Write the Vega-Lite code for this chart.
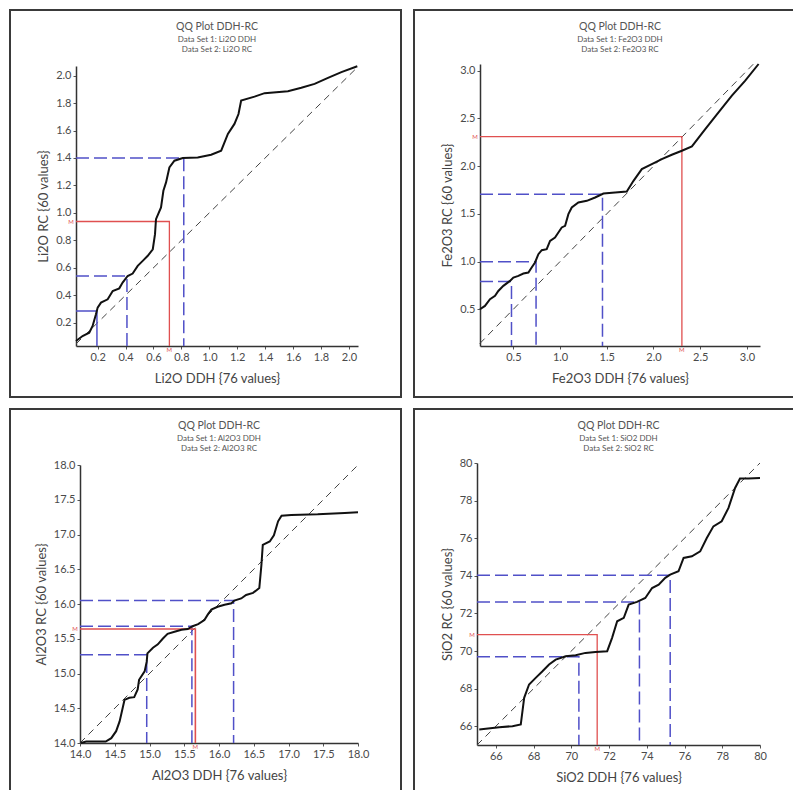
{
  "$schema": "https://vega.github.io/schema/vega-lite/v6.json",
  "padding": {"left": 9, "top": 9, "right": 0, "bottom": 0},
  "autosize": {"type": "pad"},
  "background": "white",
  "config": {
    "view": {"stroke": "#3a3a3a", "strokeWidth": 2},
    "font": "Lato",
    "axis": {"grid": false, "labelFlush": false, "labelFont": "Lato", "labelFontSize": 11, "labelColor": "#4a4a4a", "titleFont": "Lato", "titleFontSize": 13, "titleFontWeight": "normal", "titleColor": "#444", "domainColor": "#333", "domainWidth": 1.5, "tickColor": "#555", "tickSize": 3, "labelPadding": 2},
    "axisX": {"titlePadding": 10},
    "axisY": {"titlePadding": 5},
    "title": {"font": "Lato", "fontSize": 10.5, "fontWeight": "normal", "color": "#555", "subtitleFont": "Lato", "subtitleFontSize": 8, "subtitleColor": "#555", "subtitlePadding": 3, "subtitleLineHeight": 10.5, "anchor": "middle", "frame": "group", "offset": -44, "baseline": "top"}
  },
  "datasets": {
    "c1": [{"x":0.045,"y":0.066},{"x":0.092,"y":0.103},{"x":0.14,"y":0.127},{"x":0.164,"y":0.176},{"x":0.188,"y":0.261},{"x":0.2,"y":0.31},{"x":0.224,"y":0.346},{"x":0.272,"y":0.37},{"x":0.308,"y":0.431},{"x":0.355,"y":0.45},{"x":0.379,"y":0.492},{"x":0.415,"y":0.54},{"x":0.451,"y":0.558},{"x":0.487,"y":0.614},{"x":0.523,"y":0.65},{"x":0.559,"y":0.687},{"x":0.595,"y":0.735},{"x":0.611,"y":0.845},{"x":0.618,"y":0.954},{"x":0.654,"y":1.04},{"x":0.671,"y":1.161},{"x":0.69,"y":1.222},{"x":0.714,"y":1.331},{"x":0.75,"y":1.38},{"x":0.81,"y":1.4},{"x":0.917,"y":1.404},{"x":1.013,"y":1.424},{"x":1.085,"y":1.453},{"x":1.133,"y":1.575},{"x":1.18,"y":1.648},{"x":1.209,"y":1.72},{"x":1.228,"y":1.818},{"x":1.324,"y":1.847},{"x":1.396,"y":1.872},{"x":1.563,"y":1.886},{"x":1.659,"y":1.911},{"x":1.754,"y":1.94},{"x":1.85,"y":1.983},{"x":1.946,"y":2.025},{"x":2.06,"y":2.068}],
    "d1": [{"x":0.045,"y":0.045},{"x":2.065,"y":2.065}],
    "r1": [
      {"g":"A","o":1,"s":"solid","x":0.045,"y":0.285},{"g":"A","o":2,"s":"solid","x":0.195,"y":0.285},{"g":"A","o":3,"s":"solid","x":0.195,"y":0.03},
      {"g":"B","o":1,"s":"dash","x":0.045,"y":0.54},{"g":"B","o":2,"s":"dash","x":0.41,"y":0.54},{"g":"B","o":3,"s":"dash","x":0.41,"y":0.03},
      {"g":"C","o":1,"s":"dash","x":0.045,"y":1.4},{"g":"C","o":2,"s":"dash","x":0.817,"y":1.4},{"g":"C","o":3,"s":"dash","x":0.817,"y":0.03}
    ],
    "md1": [{"o":1,"x":0.045,"y":0.937},{"o":2,"x":0.714,"y":0.937},{"o":3,"x":0.714,"y":0.03}],
    "m1": [{"p":"l","x":0.045,"y":0.937},{"p":"b","x":0.714,"y":0.03}],

    "c2": [{"x":0.143,"y":0.5},{"x":0.196,"y":0.535},{"x":0.25,"y":0.605},{"x":0.304,"y":0.64},{"x":0.339,"y":0.692},{"x":0.393,"y":0.745},{"x":0.464,"y":0.797},{"x":0.5,"y":0.832},{"x":0.554,"y":0.85},{"x":0.607,"y":0.874},{"x":0.661,"y":0.885},{"x":0.696,"y":0.937},{"x":0.732,"y":0.99},{"x":0.768,"y":1.077},{"x":0.804,"y":1.119},{"x":0.857,"y":1.129},{"x":0.893,"y":1.217},{"x":0.946,"y":1.252},{"x":0.982,"y":1.304},{"x":1.018,"y":1.357},{"x":1.054,"y":1.374},{"x":1.089,"y":1.497},{"x":1.125,"y":1.566},{"x":1.196,"y":1.619},{"x":1.286,"y":1.636},{"x":1.375,"y":1.671},{"x":1.464,"y":1.713},{"x":1.589,"y":1.724},{"x":1.714,"y":1.734},{"x":1.786,"y":1.846},{"x":1.875,"y":1.969},{"x":1.982,"y":2.021},{"x":2.089,"y":2.073},{"x":2.196,"y":2.119},{"x":2.304,"y":2.161},{"x":2.411,"y":2.206},{"x":2.554,"y":2.388},{"x":2.696,"y":2.563},{"x":2.839,"y":2.738},{"x":2.982,"y":2.895},{"x":3.125,"y":3.07}],
    "d2": [{"x":0.14,"y":0.14},{"x":3.07,"y":3.07}],
    "r2": [
      {"g":"A","o":1,"s":"dash","x":0.143,"y":0.79},{"g":"A","o":2,"s":"dash","x":0.48,"y":0.79},{"g":"A","o":3,"s":"dash","x":0.48,"y":0.115},
      {"g":"B","o":1,"s":"dash","x":0.143,"y":0.997},{"g":"B","o":2,"s":"dash","x":0.743,"y":0.997},{"g":"B","o":3,"s":"dash","x":0.743,"y":0.115},
      {"g":"C","o":1,"s":"dash","x":0.143,"y":1.706},{"g":"C","o":2,"s":"dash","x":1.454,"y":1.706},{"g":"C","o":3,"s":"dash","x":1.454,"y":0.115}
    ],
    "md2": [{"o":1,"x":0.143,"y":2.308},{"o":2,"x":2.304,"y":2.308},{"o":3,"x":2.304,"y":0.115}],
    "m2": [{"p":"l","x":0.143,"y":2.308},{"p":"b","x":2.304,"y":0.115}],

    "c3": [{"x":14.01,"y":14.0},{"x":14.09,"y":14.02},{"x":14.25,"y":14.02},{"x":14.37,"y":14.02},{"x":14.45,"y":14.07},{"x":14.52,"y":14.17},{"x":14.57,"y":14.31},{"x":14.64,"y":14.62},{"x":14.71,"y":14.65},{"x":14.78,"y":14.66},{"x":14.83,"y":14.77},{"x":14.85,"y":14.91},{"x":14.93,"y":15.03},{"x":14.96,"y":15.17},{"x":14.97,"y":15.29},{"x":15.05,"y":15.37},{"x":15.12,"y":15.42},{"x":15.19,"y":15.5},{"x":15.26,"y":15.57},{"x":15.36,"y":15.6},{"x":15.46,"y":15.63},{"x":15.55,"y":15.64},{"x":15.62,"y":15.68},{"x":15.7,"y":15.71},{"x":15.79,"y":15.77},{"x":15.84,"y":15.85},{"x":15.89,"y":15.92},{"x":15.98,"y":15.96},{"x":16.08,"y":15.99},{"x":16.18,"y":16.01},{"x":16.22,"y":16.05},{"x":16.32,"y":16.08},{"x":16.39,"y":16.13},{"x":16.49,"y":16.16},{"x":16.58,"y":16.23},{"x":16.61,"y":16.56},{"x":16.63,"y":16.85},{"x":16.73,"y":16.9},{"x":16.79,"y":16.99},{"x":16.85,"y":17.19},{"x":16.9,"y":17.27},{"x":17.04,"y":17.28},{"x":17.42,"y":17.29},{"x":17.81,"y":17.31},{"x":18.0,"y":17.32}],
    "d3": [{"x":14,"y":14},{"x":18,"y":18}],
    "r3": [
      {"g":"A","o":1,"s":"dash","x":14,"y":15.27},{"g":"A","o":2,"s":"dash","x":14.96,"y":15.27},{"g":"A","o":3,"s":"dash","x":14.96,"y":14},
      {"g":"B","o":1,"s":"dash","x":14,"y":15.68},{"g":"B","o":2,"s":"dash","x":15.61,"y":15.68},{"g":"B","o":3,"s":"dash","x":15.61,"y":14},
      {"g":"C","o":1,"s":"dash","x":14,"y":16.05},{"g":"C","o":2,"s":"dash","x":16.21,"y":16.05},{"g":"C","o":3,"s":"dash","x":16.21,"y":14}
    ],
    "md3": [{"o":1,"x":14,"y":15.64},{"o":2,"x":15.66,"y":15.64},{"o":3,"x":15.66,"y":14}],
    "m3": [{"p":"l","x":14,"y":15.64},{"p":"b","x":15.66,"y":14}],

    "c4": [{"x":65.12,"y":65.82},{"x":65.47,"y":65.86},{"x":66.18,"y":65.95},{"x":66.88,"y":66.0},{"x":67.32,"y":66.09},{"x":67.5,"y":67.51},{"x":67.76,"y":68.22},{"x":68.11,"y":68.57},{"x":68.47,"y":68.92},{"x":68.82,"y":69.28},{"x":69.17,"y":69.54},{"x":69.7,"y":69.72},{"x":70.23,"y":69.77},{"x":70.75,"y":69.9},{"x":71.28,"y":69.95},{"x":71.9,"y":69.99},{"x":72.16,"y":70.7},{"x":72.43,"y":71.58},{"x":72.78,"y":71.76},{"x":73.04,"y":72.47},{"x":73.48,"y":72.61},{"x":73.92,"y":72.82},{"x":74.28,"y":73.35},{"x":74.63,"y":73.53},{"x":74.98,"y":73.89},{"x":75.24,"y":74.06},{"x":75.68,"y":74.24},{"x":75.95,"y":74.95},{"x":76.39,"y":75.04},{"x":76.83,"y":75.3},{"x":77.18,"y":76.01},{"x":77.53,"y":76.63},{"x":77.97,"y":76.9},{"x":78.33,"y":77.61},{"x":78.68,"y":78.67},{"x":78.94,"y":79.17},{"x":79.38,"y":79.17},{"x":80.0,"y":79.2}],
    "d4": [{"x":65,"y":65},{"x":80,"y":80}],
    "r4": [
      {"g":"A","o":1,"s":"dash","x":65,"y":69.7},{"g":"A","o":2,"s":"dash","x":70.4,"y":69.7},{"g":"A","o":3,"s":"dash","x":70.4,"y":65},
      {"g":"B","o":1,"s":"dash","x":65,"y":72.61},{"g":"B","o":2,"s":"dash","x":73.61,"y":72.61},{"g":"B","o":3,"s":"dash","x":73.61,"y":65},
      {"g":"C","o":1,"s":"dash","x":65,"y":74.03},{"g":"C","o":2,"s":"dash","x":75.24,"y":74.03},{"g":"C","o":3,"s":"dash","x":75.24,"y":65}
    ],
    "md4": [{"o":1,"x":65,"y":70.87},{"o":2,"x":71.37,"y":70.87},{"o":3,"x":71.37,"y":65}],
    "m4": [{"p":"l","x":65,"y":70.87},{"p":"b","x":71.37,"y":65}]
  },
  "spacing": 10,
  "vconcat": [
    {
      "spacing": 11,
      "resolve": {"scale": {"x": "independent", "y": "independent", "strokeDash": "independent"}},
      "hconcat": [
        {
          "width": 391, "height": 387,
          "title": {"text": "QQ Plot DDH-RC", "subtitle": ["Data Set 1: Li2O DDH", "Data Set 2: Li2O RC"], "dx": 11.5},
          "encoding": {
            "x": {"field": "x", "type": "quantitative", "scale": {"domain": [0.045, 2.065], "range": [66, 348], "nice": false, "zero": false}, "axis": {"title": "Li2O DDH {76 values}", "values": [0.2,0.4,0.6,0.8,1.0,1.2,1.4,1.6,1.8,2.0], "format": ".1f", "offset": -51}},
            "y": {"field": "y", "type": "quantitative", "scale": {"domain": [0.03, 2.07], "range": [336, 56], "nice": false, "zero": false}, "axis": {"title": "Li2O RC {60 values}", "values": [0.2,0.4,0.6,0.8,1.0,1.2,1.4,1.6,1.8,2.0], "format": ".1f", "offset": -66}}
          },
          "layer": [
            {"data": {"name": "d1"}, "mark": {"type": "line", "color": "#444", "strokeWidth": 1, "strokeDash": [7, 5]}},
            {"data": {"name": "r1"}, "mark": {"type": "line", "color": "#5050c8", "strokeWidth": 1.5}, "encoding": {"detail": {"field": "g"}, "order": {"field": "o"}, "strokeDash": {"field": "s", "type": "nominal", "scale": {"domain": ["solid", "dash"], "range": [[1, 0], [13, 5]]}, "legend": null}}},
            {"data": {"name": "md1"}, "mark": {"type": "line", "color": "#e05050", "strokeWidth": 1.3}, "encoding": {"order": {"field": "o"}}},
            {"data": {"name": "c1"}, "mark": {"type": "line", "color": "#111", "strokeWidth": 2}},
            {"data": {"name": "m1"}, "transform": [{"filter": "datum.p == 'l'"}], "mark": {"type": "text", "text": "M", "color": "#e05050", "fontSize": 6, "dx": -5}},
            {"data": {"name": "m1"}, "transform": [{"filter": "datum.p == 'b'"}], "mark": {"type": "text", "text": "M", "color": "#e05050", "fontSize": 6, "dy": 4}}
          ]
        },
        {
          "width": 382, "height": 387,
          "title": {"text": "QQ Plot DDH-RC", "subtitle": ["Data Set 1: Fe2O3 DDH", "Data Set 2: Fe2O3 RC"], "dx": 15},
          "encoding": {
            "x": {"field": "x", "type": "quantitative", "scale": {"domain": [0.143, 3.14], "range": [66, 346], "nice": false, "zero": false}, "axis": {"title": "Fe2O3 DDH {76 values}", "values": [0.5,1.0,1.5,2.0,2.5,3.0], "format": ".1f", "offset": -51}},
            "y": {"field": "y", "type": "quantitative", "scale": {"domain": [0.115, 3.07], "range": [336, 54], "nice": false, "zero": false}, "axis": {"title": "Fe2O3 RC {60 values}", "values": [0.5,1.0,1.5,2.0,2.5,3.0], "format": ".1f", "offset": -66}}
          },
          "layer": [
            {"data": {"name": "d2"}, "mark": {"type": "line", "color": "#444", "strokeWidth": 1, "strokeDash": [7, 5]}},
            {"data": {"name": "r2"}, "mark": {"type": "line", "color": "#5050c8", "strokeWidth": 1.5}, "encoding": {"detail": {"field": "g"}, "order": {"field": "o"}, "strokeDash": {"field": "s", "type": "nominal", "scale": {"domain": ["solid", "dash"], "range": [[1, 0], [13, 5]]}, "legend": null}}},
            {"data": {"name": "md2"}, "mark": {"type": "line", "color": "#e05050", "strokeWidth": 1.3}, "encoding": {"order": {"field": "o"}}},
            {"data": {"name": "c2"}, "mark": {"type": "line", "color": "#111", "strokeWidth": 2}},
            {"data": {"name": "m2"}, "transform": [{"filter": "datum.p == 'l'"}], "mark": {"type": "text", "text": "M", "color": "#e05050", "fontSize": 6, "dx": -5}},
            {"data": {"name": "m2"}, "transform": [{"filter": "datum.p == 'b'"}], "mark": {"type": "text", "text": "M", "color": "#e05050", "fontSize": 6, "dy": 4}}
          ]
        }
      ]
    },
    {
      "spacing": 11,
      "resolve": {"scale": {"x": "independent", "y": "independent", "strokeDash": "independent"}},
      "hconcat": [
        {
          "width": 391, "height": 390,
          "title": {"text": "QQ Plot DDH-RC", "subtitle": ["Data Set 1: Al2O3 DDH", "Data Set 2: Al2O3 RC"], "dx": 13.5},
          "encoding": {
            "x": {"field": "x", "type": "quantitative", "scale": {"domain": [14, 18], "range": [70, 348], "nice": false, "zero": false}, "axis": {"title": "Al2O3 DDH {76 values}", "values": [14,14.5,15,15.5,16,16.5,17,17.5,18], "format": ".1f", "offset": -56}},
            "y": {"field": "y", "type": "quantitative", "scale": {"domain": [14, 18], "range": [334, 56], "nice": false, "zero": false}, "axis": {"title": "Al2O3 RC {60 values}", "values": [14,14.5,15,15.5,16,16.5,17,17.5,18], "format": ".1f", "offset": -70}}
          },
          "layer": [
            {"data": {"name": "d3"}, "mark": {"type": "line", "color": "#444", "strokeWidth": 1, "strokeDash": [7, 5]}},
            {"data": {"name": "r3"}, "mark": {"type": "line", "color": "#5050c8", "strokeWidth": 1.5}, "encoding": {"detail": {"field": "g"}, "order": {"field": "o"}, "strokeDash": {"field": "s", "type": "nominal", "scale": {"domain": ["solid", "dash"], "range": [[1, 0], [13, 5]]}, "legend": null}}},
            {"data": {"name": "md3"}, "mark": {"type": "line", "color": "#e05050", "strokeWidth": 1.6}, "encoding": {"order": {"field": "o"}}},
            {"data": {"name": "c3"}, "mark": {"type": "line", "color": "#111", "strokeWidth": 2}},
            {"data": {"name": "m3"}, "transform": [{"filter": "datum.p == 'l'"}], "mark": {"type": "text", "text": "M", "color": "#e05050", "fontSize": 6, "dx": -5}},
            {"data": {"name": "m3"}, "transform": [{"filter": "datum.p == 'b'"}], "mark": {"type": "text", "text": "M", "color": "#e05050", "fontSize": 6, "dy": 4}}
          ]
        },
        {
          "width": 382, "height": 390,
          "title": {"text": "QQ Plot DDH-RC", "subtitle": ["Data Set 1: SiO2 DDH", "Data Set 2: SiO2 RC"], "dx": 13.5},
          "encoding": {
            "x": {"field": "x", "type": "quantitative", "scale": {"domain": [65, 80], "range": [63, 346], "nice": false, "zero": false}, "axis": {"title": "SiO2 DDH {76 values}", "values": [66,68,70,72,74,76,78,80], "format": "d", "offset": -54}},
            "y": {"field": "y", "type": "quantitative", "scale": {"domain": [65, 80], "range": [336, 54], "nice": false, "zero": false}, "axis": {"title": "SiO2 RC {60 values}", "values": [66,68,70,72,74,76,78,80], "format": "d", "offset": -63}}
          },
          "layer": [
            {"data": {"name": "d4"}, "mark": {"type": "line", "color": "#444", "strokeWidth": 1, "strokeDash": [7, 5]}},
            {"data": {"name": "r4"}, "mark": {"type": "line", "color": "#5050c8", "strokeWidth": 1.5}, "encoding": {"detail": {"field": "g"}, "order": {"field": "o"}, "strokeDash": {"field": "s", "type": "nominal", "scale": {"domain": ["solid", "dash"], "range": [[1, 0], [13, 5]]}, "legend": null}}},
            {"data": {"name": "md4"}, "mark": {"type": "line", "color": "#e05050", "strokeWidth": 1.3}, "encoding": {"order": {"field": "o"}}},
            {"data": {"name": "c4"}, "mark": {"type": "line", "color": "#111", "strokeWidth": 2}},
            {"data": {"name": "m4"}, "transform": [{"filter": "datum.p == 'l'"}], "mark": {"type": "text", "text": "M", "color": "#e05050", "fontSize": 6, "dx": -5}},
            {"data": {"name": "m4"}, "transform": [{"filter": "datum.p == 'b'"}], "mark": {"type": "text", "text": "M", "color": "#e05050", "fontSize": 6, "dy": 4}}
          ]
        }
      ]
    }
  ]
}
